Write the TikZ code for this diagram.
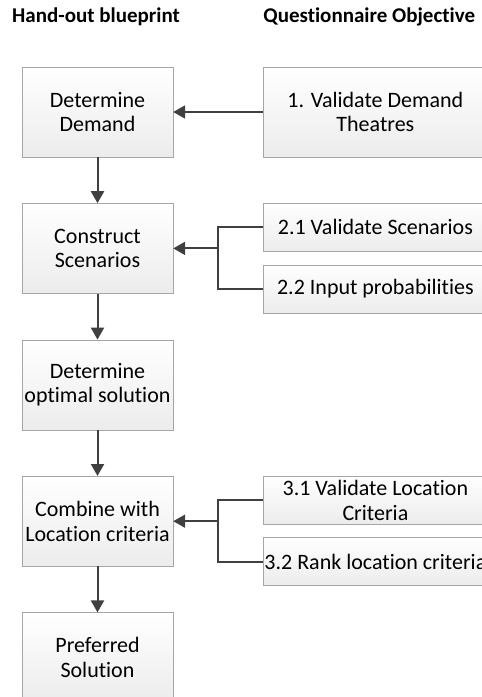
\documentclass[tikz,border=0pt]{standalone}
\usepackage{fontspec}
\setmainfont{Carlito}[Ligatures=NoCommon]
\usetikzlibrary{arrows.meta,positioning}
\definecolor{boxedge}{HTML}{A6A6A6}
\definecolor{boxshade}{HTML}{ECECEC}
\definecolor{arrowgray}{HTML}{404040}

\begin{document}
\begin{tikzpicture}[
  x=1pt, y=1pt,
  box/.style={draw=boxedge, rectangle, top color=white, bottom color=boxshade,
              minimum width=151pt, minimum height=90pt, inner xsep=2pt,
              font=\fontsize{22}{24.5}\selectfont, align=center},
  qbox/.style={box, minimum width=224pt},
  qsmall/.style={box, minimum width=224pt, minimum height=48pt, inner sep=0pt},
  head/.style={font=\fontsize{21}{24}\selectfont\bfseries, anchor=west, inner sep=0pt},
  arr/.style={-{Triangle[length=12pt,width=13pt]}, line width=2pt, arrowgray},
  link/.style={line width=2pt, arrowgray},
  node distance=46pt and 90pt
]
\clip (0,0) rectangle (482,-697);

%% Column headers
\node[head] (headbp) at (12,-17) {Hand-out blueprint};

%% Hand-out blueprint column
\node[box] (demand) at (97.5,-112) {Determine\\Demand};
\node[box, below=of demand] (scen) {Construct\\Scenarios};
\node[box, below=of scen] (optsol) {Determine\\optimal solution};
\node[box, below=of optsol] (comb) {Combine with\\Location criteria};
\node[box, below=of comb] (pref) {Preferred\\Solution};

%% Questionnaire column
\node[qbox, right=of demand] (valdem) {1. Validate Demand\\Theatres};
\node[head] (headqo) at (valdem.west |- headbp.west) {Questionnaire Objective};
\node[qsmall, right=of scen.north east, anchor=north west] (valscen) {2.1 Validate Scenarios};
\node[qsmall, below=13pt of valscen] (inprob) {2.2 Input probabilities};
\node[qsmall, right=of comb.north east, anchor=north west] (valloc) {3.1 Validate Location\\Criteria};
\node[qsmall, below=13pt of valloc] (rankloc) {3.2 Rank location criteria};

%% Junctions
\coordinate[right=45pt of scen.east] (scenjoin);
\coordinate[right=45pt of comb.east] (combjoin);

%% Main flow
\draw[arr] (demand) -- (scen);
\draw[arr] (scen) -- (optsol);
\draw[arr] (optsol) -- (comb);
\draw[arr] (comb) -- (pref);

%% Objectives feeding the blueprint
\draw[arr] (valdem) -- (demand);
\draw[link] (valscen.west) -| (scenjoin) |- (inprob.west);
\draw[arr] (scenjoin) -- (scen);
\draw[link] (valloc.west) -| (combjoin) |- (rankloc.west);
\draw[arr] (combjoin) -- (comb);

\end{tikzpicture}
\end{document}
